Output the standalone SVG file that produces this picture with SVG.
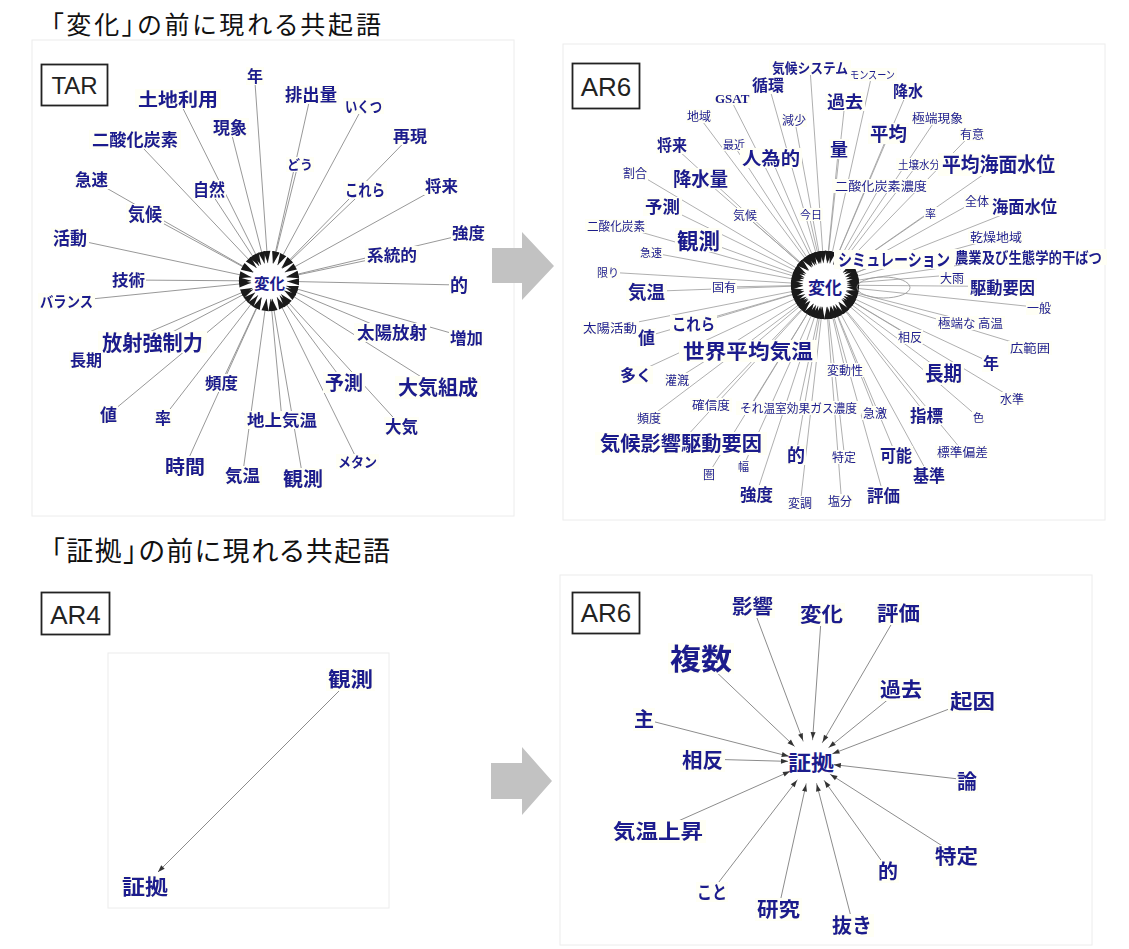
<svg xmlns="http://www.w3.org/2000/svg" width="1129" height="949" viewBox="0 0 1129 949">
<style>
  .title { font-family: "Noto Sans CJK JP", sans-serif; fill: #111; font-feature-settings: "palt"; }
  .tag { font-family: "Liberation Sans", Arial, sans-serif; fill: #222; text-anchor: middle; }
  .tagbox { fill: #fff; stroke: #222; stroke-width: 1.8; }
  .panel { fill: none; stroke: #ececec; stroke-width: 1; }
  .lb { font-family: "Noto Sans CJK JP", sans-serif; font-weight: 700; fill: #1c1c8c; filter: url(#bg); }
  .sm { font-weight: 400; }
  .gs { font-family: "Liberation Serif", "Times New Roman", serif; }
  .hub { font-family: "Noto Sans CJK JP", sans-serif; font-weight: 700; fill: #1c1c8c; }
  .eT { stroke: #8c8c8c; stroke-width: 0.9; marker-end: url(#hT); }
  .eA { stroke: #9a9a9a; stroke-width: 0.8; marker-end: url(#hA); }
  .eE { stroke: #8c8c8c; stroke-width: 1; marker-end: url(#hE); }
  .eF { stroke: #8c8c8c; stroke-width: 1; marker-end: url(#hF); }
  .big { fill: #c2c2c2; }
</style>
<defs>
  <!-- pale label backing that hides the spokes running under a word -->
  <filter id="bg" x="-0.03" y="0.17" width="1.06" height="0.73" color-interpolation-filters="sRGB">
    <feFlood flood-color="#fffff5"/>
    <feMerge><feMergeNode/><feMergeNode in="SourceGraphic"/></feMerge>
  </filter>
  <marker id="hT" markerUnits="userSpaceOnUse" orient="auto" refX="30" refY="0" markerWidth="40" markerHeight="10" overflow="visible">
    <path d="M0,-3.5 L12,0 L0,3.5 z" fill="#1a1a1a"/>
  </marker>
  <marker id="hA" markerUnits="userSpaceOnUse" orient="auto" refX="34" refY="0" markerWidth="40" markerHeight="10" overflow="visible">
    <path d="M0,-3.5 L12,0 L0,3.5 z" fill="#1a1a1a"/>
  </marker>
  <marker id="hE" markerUnits="userSpaceOnUse" orient="auto" refX="30" refY="0" markerWidth="40" markerHeight="10" overflow="visible">
    <path d="M0,-2.5 L7,0 L0,2.5 z" fill="#333"/>
  </marker>
  <marker id="hF" markerUnits="userSpaceOnUse" orient="auto" refX="7" refY="0" markerWidth="10" markerHeight="10" overflow="visible">
    <path d="M0,-2.5 L7,0 L0,2.5 z" fill="#333"/>
  </marker>
</defs>

<rect width="1129" height="949" fill="#fff"/>

<!-- headings -->
<text class="title" x="51" y="34" font-size="25" textLength="330">「変化」の前に現れる共起語</text>
<text class="title" x="51" y="561" font-size="27" textLength="339">「証拠」の前に現れる共起語</text>

<!-- panel frames -->
<rect class="panel" x="32" y="40" width="482" height="476"/>
<rect class="panel" x="563" y="44" width="542" height="476"/>
<rect class="panel" x="108" y="653" width="281" height="255"/>
<rect class="panel" x="560" y="575" width="532" height="370"/>

<!-- report tags -->
<g id="tag-tar"><rect class="tagbox" x="41.5" y="64.5" width="66" height="41"/><text class="tag" x="74.5" y="94" font-size="24">TAR</text></g>
<g id="tag-ar6a"><rect class="tagbox" x="572.5" y="63.5" width="67" height="45"/><text class="tag" x="606" y="96" font-size="26">AR6</text></g>
<g id="tag-ar4"><rect class="tagbox" x="41.5" y="592.5" width="68" height="42"/><text class="tag" x="75.5" y="624" font-size="26">AR4</text></g>
<g id="tag-ar6b"><rect class="tagbox" x="572.5" y="592.5" width="67" height="41"/><text class="tag" x="606" y="622" font-size="26">AR6</text></g>

<!-- transition arrows -->
<polygon class="big" points="492,248 522,248 522,232 554,266 522,300 522,283 492,283"/>
<polygon class="big" points="491,763 522,763 522,747 552,781 522,815 522,799 491,799"/>

<!-- ===== TAR: words before 変化 ===== -->
<g id="tar-edges">
  <line class="eT" x1="254.5" y1="75.5" x2="269" y2="281"/>
  <line class="eT" x1="178" y1="98.5" x2="269" y2="281"/>
  <line class="eT" x1="230" y1="127.5" x2="269" y2="281"/>
  <line class="eT" x1="135" y1="139.5" x2="269" y2="281"/>
  <line class="eT" x1="209" y1="189.5" x2="269" y2="281"/>
  <line class="eT" x1="91.5" y1="179.5" x2="269" y2="281"/>
  <line class="eT" x1="145" y1="213.5" x2="269" y2="281"/>
  <line class="eT" x1="70" y1="238.5" x2="269" y2="281"/>
  <line class="eT" x1="128.5" y1="280" x2="269" y2="281"/>
  <line class="eT" x1="66.5" y1="301.5" x2="269" y2="281"/>
  <line class="eT" x1="152.5" y1="342.5" x2="269" y2="281"/>
  <line class="eT" x1="86" y1="359" x2="269" y2="281"/>
  <line class="eT" x1="221.5" y1="382.5" x2="269" y2="281"/>
  <line class="eT" x1="108.5" y1="414.5" x2="269" y2="281"/>
  <line class="eT" x1="163.5" y1="417.5" x2="269" y2="281"/>
  <line class="eT" x1="185" y1="466.5" x2="269" y2="281"/>
  <line class="eT" x1="242.5" y1="475.5" x2="269" y2="281"/>
  <line class="eT" x1="282" y1="420" x2="269" y2="281"/>
  <line class="eT" x1="303" y1="478.5" x2="269" y2="281"/>
  <line class="eT" x1="357.5" y1="460.5" x2="269" y2="281"/>
  <line class="eT" x1="344" y1="382.5" x2="269" y2="281"/>
  <line class="eT" x1="401.5" y1="426.5" x2="269" y2="281"/>
  <line class="eT" x1="438" y1="387.5" x2="269" y2="281"/>
  <line class="eT" x1="392" y1="332.5" x2="269" y2="281"/>
  <line class="eT" x1="466.5" y1="337.5" x2="269" y2="281"/>
  <line class="eT" x1="459" y1="285" x2="269" y2="281"/>
  <line class="eT" x1="311" y1="93.5" x2="269" y2="281"/>
  <line class="eT" x1="363.5" y1="105.5" x2="269" y2="281"/>
  <line class="eT" x1="298.5" y1="162.5" x2="269" y2="281"/>
  <line class="eT" x1="410" y1="136.5" x2="269" y2="281"/>
  <line class="eT" x1="365" y1="189.5" x2="269" y2="281"/>
  <line class="eT" x1="441.5" y1="185.5" x2="269" y2="281"/>
  <line class="eT" x1="468.5" y1="233.5" x2="269" y2="281"/>
  <line class="eT" x1="392" y1="255" x2="269" y2="281"/>
</g>
<g id="tar-hub"><circle cx="269" cy="281" r="18" fill="#fff"/><text class="hub" x="254" y="289" font-size="15" textLength="31" lengthAdjust="spacingAndGlyphs">変化</text></g>
<g id="tar-n01"><text class="lb" x="247" y="82" font-size="16">年</text></g>
<g id="tar-n02"><text class="lb" x="138" y="106" font-size="18" textLength="80" lengthAdjust="spacingAndGlyphs">土地利用</text></g>
<g id="tar-n03"><text class="lb" x="213" y="134" font-size="17" textLength="34" lengthAdjust="spacingAndGlyphs">現象</text></g>
<g id="tar-n04"><text class="lb" x="92" y="146" font-size="17" textLength="86" lengthAdjust="spacingAndGlyphs">二酸化炭素</text></g>
<g id="tar-n05"><text class="lb" x="193" y="196" font-size="17" textLength="32" lengthAdjust="spacingAndGlyphs">自然</text></g>
<g id="tar-n06"><text class="lb" x="75" y="186" font-size="17" textLength="33" lengthAdjust="spacingAndGlyphs">急速</text></g>
<g id="tar-n07"><text class="lb" x="128" y="221" font-size="18" textLength="34" lengthAdjust="spacingAndGlyphs">気候</text></g>
<g id="tar-n08"><text class="lb" x="53" y="245" font-size="18" textLength="34" lengthAdjust="spacingAndGlyphs">活動</text></g>
<g id="tar-n09"><text class="lb" x="112" y="286" font-size="16" textLength="33" lengthAdjust="spacingAndGlyphs">技術</text></g>
<g id="tar-n10"><text class="lb" x="40" y="307" font-size="15" textLength="53" lengthAdjust="spacingAndGlyphs">バランス</text></g>
<g id="tar-n11"><text class="lb" x="102" y="350" font-size="21" textLength="101" lengthAdjust="spacingAndGlyphs">放射強制力</text></g>
<g id="tar-n12"><text class="lb" x="70" y="366" font-size="16" textLength="32" lengthAdjust="spacingAndGlyphs">長期</text></g>
<g id="tar-n13"><text class="lb" x="205" y="389" font-size="16" textLength="33" lengthAdjust="spacingAndGlyphs">頻度</text></g>
<g id="tar-n14"><text class="lb" x="100" y="421" font-size="17">値</text></g>
<g id="tar-n15"><text class="lb" x="155" y="424" font-size="16">率</text></g>
<g id="tar-n16"><text class="lb" x="165" y="474" font-size="19" textLength="40" lengthAdjust="spacingAndGlyphs">時間</text></g>
<g id="tar-n17"><text class="lb" x="225" y="482" font-size="17" textLength="35" lengthAdjust="spacingAndGlyphs">気温</text></g>
<g id="tar-n18"><text class="lb" x="247" y="426" font-size="16" textLength="70" lengthAdjust="spacingAndGlyphs">地上気温</text></g>
<g id="tar-n19"><text class="lb" x="283" y="486" font-size="19" textLength="40" lengthAdjust="spacingAndGlyphs">観測</text></g>
<g id="tar-n20"><text class="lb" x="338" y="467" font-size="14" textLength="39" lengthAdjust="spacingAndGlyphs">メタン</text></g>
<g id="tar-n21"><text class="lb" x="325" y="390" font-size="19" textLength="38" lengthAdjust="spacingAndGlyphs">予測</text></g>
<g id="tar-n22"><text class="lb" x="385" y="433" font-size="17" textLength="33" lengthAdjust="spacingAndGlyphs">大気</text></g>
<g id="tar-n23"><text class="lb" x="398" y="395" font-size="20" textLength="80" lengthAdjust="spacingAndGlyphs">大気組成</text></g>
<g id="tar-n24"><text class="lb" x="357" y="339" font-size="17" textLength="70" lengthAdjust="spacingAndGlyphs">太陽放射</text></g>
<g id="tar-n25"><text class="lb" x="450" y="344" font-size="16" textLength="33" lengthAdjust="spacingAndGlyphs">増加</text></g>
<g id="tar-n26"><text class="lb" x="450" y="292" font-size="18">的</text></g>
<g id="tar-n27"><text class="lb" x="285" y="101" font-size="17" textLength="52" lengthAdjust="spacingAndGlyphs">排出量</text></g>
<g id="tar-n28"><text class="lb" x="345" y="112" font-size="15" textLength="37" lengthAdjust="spacingAndGlyphs">いくつ</text></g>
<g id="tar-n29"><text class="lb" x="287" y="169" font-size="13">どう</text></g>
<g id="tar-n30"><text class="lb" x="393" y="142" font-size="16" textLength="34" lengthAdjust="spacingAndGlyphs">再現</text></g>
<g id="tar-n31"><text class="lb" x="345" y="196" font-size="16" textLength="40" lengthAdjust="spacingAndGlyphs">これら</text></g>
<g id="tar-n32"><text class="lb" x="425" y="192" font-size="16" textLength="33" lengthAdjust="spacingAndGlyphs">将来</text></g>
<g id="tar-n33"><text class="lb" x="452" y="239" font-size="16" textLength="33" lengthAdjust="spacingAndGlyphs">強度</text></g>
<g id="tar-n34"><text class="lb" x="367" y="261" font-size="16" textLength="50" lengthAdjust="spacingAndGlyphs">系統的</text></g>

<!-- ===== AR6: words before 変化 ===== -->
<g id="ar6a-edges">
  <line class="eA" x1="768" y1="82.5" x2="825" y2="285"/>
  <line class="eA" x1="810" y1="68.5" x2="825" y2="285"/>
  <line class="eA" x1="872" y1="74" x2="825" y2="285"/>
  <line class="eA" x1="730" y1="98" x2="825" y2="285"/>
  <line class="eA" x1="698.5" y1="116" x2="825" y2="285"/>
  <line class="eA" x1="794.5" y1="119" x2="825" y2="285"/>
  <line class="eA" x1="845" y1="101.5" x2="825" y2="285"/>
  <line class="eA" x1="908" y1="90" x2="825" y2="285"/>
  <line class="eA" x1="937.5" y1="117" x2="825" y2="285"/>
  <line class="eA" x1="888.5" y1="133.5" x2="825" y2="285"/>
  <line class="eA" x1="972.5" y1="133" x2="825" y2="285"/>
  <line class="eA" x1="919" y1="162.5" x2="825" y2="285"/>
  <line class="eA" x1="998.5" y1="164" x2="825" y2="285"/>
  <line class="eA" x1="881" y1="185" x2="825" y2="285"/>
  <line class="eA" x1="977.5" y1="200" x2="825" y2="285"/>
  <line class="eA" x1="1024.5" y1="206" x2="825" y2="285"/>
  <line class="eA" x1="930" y1="212.5" x2="825" y2="285"/>
  <line class="eA" x1="996" y1="238" x2="825" y2="285"/>
  <line class="eA" x1="894" y1="257.5" x2="825" y2="285"/>
  <line class="eA" x1="1028" y1="255" x2="825" y2="285"/>
  <line class="eA" x1="952" y1="275" x2="825" y2="285"/>
  <line class="eA" x1="1002.5" y1="286.5" x2="825" y2="285"/>
  <line class="eA" x1="1039.5" y1="307.5" x2="825" y2="285"/>
  <line class="eA" x1="970.5" y1="322" x2="825" y2="285"/>
  <line class="eA" x1="910.5" y1="336" x2="825" y2="285"/>
  <line class="eA" x1="1030" y1="347.5" x2="825" y2="285"/>
  <line class="eA" x1="990.5" y1="362.5" x2="825" y2="285"/>
  <line class="eA" x1="943.5" y1="372.5" x2="825" y2="285"/>
  <line class="eA" x1="845" y1="369" x2="825" y2="285"/>
  <line class="eA" x1="1012.5" y1="398" x2="825" y2="285"/>
  <line class="eA" x1="875.5" y1="412.5" x2="825" y2="285"/>
  <line class="eA" x1="926.5" y1="415" x2="825" y2="285"/>
  <line class="eA" x1="978" y1="417" x2="825" y2="285"/>
  <line class="eA" x1="962.5" y1="451" x2="825" y2="285"/>
  <line class="eA" x1="844.5" y1="456" x2="825" y2="285"/>
  <line class="eA" x1="896" y1="455" x2="825" y2="285"/>
  <line class="eA" x1="929" y1="475.5" x2="825" y2="285"/>
  <line class="eA" x1="841.5" y1="500" x2="825" y2="285"/>
  <line class="eA" x1="883.5" y1="495" x2="825" y2="285"/>
  <line class="eA" x1="798.5" y1="407.5" x2="825" y2="285"/>
  <line class="eA" x1="750" y1="407.5" x2="825" y2="285"/>
  <line class="eA" x1="800.5" y1="502" x2="825" y2="285"/>
  <line class="eA" x1="756.5" y1="493.5" x2="825" y2="285"/>
  <line class="eA" x1="796" y1="455" x2="825" y2="285"/>
  <line class="eA" x1="709" y1="473" x2="825" y2="285"/>
  <line class="eA" x1="743.5" y1="466" x2="825" y2="285"/>
  <line class="eA" x1="681" y1="442.5" x2="825" y2="285"/>
  <line class="eA" x1="649.5" y1="417.5" x2="825" y2="285"/>
  <line class="eA" x1="711" y1="404" x2="825" y2="285"/>
  <line class="eA" x1="677.5" y1="378.5" x2="825" y2="285"/>
  <line class="eA" x1="632.5" y1="374.5" x2="825" y2="285"/>
  <line class="eA" x1="748" y1="350" x2="825" y2="285"/>
  <line class="eA" x1="693.5" y1="324.5" x2="825" y2="285"/>
  <line class="eA" x1="646.5" y1="336.5" x2="825" y2="285"/>
  <line class="eA" x1="610" y1="327.5" x2="825" y2="285"/>
  <line class="eA" x1="646.5" y1="291.5" x2="825" y2="285"/>
  <line class="eA" x1="724.5" y1="287" x2="825" y2="285"/>
  <line class="eA" x1="605" y1="272" x2="825" y2="285"/>
  <line class="eA" x1="648.5" y1="252" x2="825" y2="285"/>
  <line class="eA" x1="698.5" y1="239" x2="825" y2="285"/>
  <line class="eA" x1="616" y1="225" x2="825" y2="285"/>
  <line class="eA" x1="662.5" y1="205.5" x2="825" y2="285"/>
  <line class="eA" x1="744" y1="214" x2="825" y2="285"/>
  <line class="eA" x1="808.5" y1="213" x2="825" y2="285"/>
  <line class="eA" x1="700.5" y1="176" x2="825" y2="285"/>
  <line class="eA" x1="635" y1="172" x2="825" y2="285"/>
  <line class="eA" x1="672" y1="144.5" x2="825" y2="285"/>
  <line class="eA" x1="733" y1="144" x2="825" y2="285"/>
  <line class="eA" x1="771" y1="157.5" x2="825" y2="285"/>
  <line class="eA" x1="838.5" y1="148.5" x2="825" y2="285"/>
  <ellipse cx="883.5" cy="287.5" rx="26.5" ry="10.5" fill="none" stroke="#9a9a9a" stroke-width="0.9"/>
</g>
<g id="ar6a-hub"><circle cx="825" cy="285" r="22" fill="#fff"/><text class="hub" x="808" y="293.5" font-size="17" textLength="34" lengthAdjust="spacingAndGlyphs">変化</text></g>
<g id="ar6a-n01"><text class="lb" x="752" y="91" font-size="16" textLength="32" lengthAdjust="spacingAndGlyphs">循環</text></g>
<g id="ar6a-n02"><text class="lb sm" x="850" y="79" font-size="11" textLength="45" lengthAdjust="spacingAndGlyphs">モンスーン</text></g>
<g id="ar6a-n03"><text class="lb" x="772" y="73" font-size="14" textLength="76" lengthAdjust="spacingAndGlyphs">気候システム</text></g>
<g id="ar6a-n04"><text class="lb gs" x="715" y="103" font-size="13">GSAT</text></g>
<g id="ar6a-n05"><text class="lb sm" x="687" y="121" font-size="12">地域</text></g>
<g id="ar6a-n06"><text class="lb sm" x="782" y="125" font-size="12">減少</text></g>
<g id="ar6a-n07"><text class="lb" x="827" y="108" font-size="17" textLength="36" lengthAdjust="spacingAndGlyphs">過去</text></g>
<g id="ar6a-n08"><text class="lb" x="893" y="97" font-size="16" textLength="30" lengthAdjust="spacingAndGlyphs">降水</text></g>
<g id="ar6a-n09"><text class="lb sm" x="912" y="123" font-size="12" textLength="51" lengthAdjust="spacingAndGlyphs">極端現象</text></g>
<g id="ar6a-n10"><text class="lb" x="870" y="141" font-size="19" textLength="37" lengthAdjust="spacingAndGlyphs">平均</text></g>
<g id="ar6a-n11"><text class="lb sm" x="960" y="139" font-size="12">有意</text></g>
<g id="ar6a-n12"><text class="lb sm" x="898" y="169" font-size="11" textLength="42" lengthAdjust="spacingAndGlyphs">土壌水分</text></g>
<g id="ar6a-n13"><text class="lb" x="942" y="172" font-size="20" textLength="113" lengthAdjust="spacingAndGlyphs">平均海面水位</text></g>
<g id="ar6a-n14"><text class="lb sm" x="835" y="191" font-size="12" textLength="92" lengthAdjust="spacingAndGlyphs">二酸化炭素濃度</text></g>
<g id="ar6a-n15"><text class="lb sm" x="965" y="206" font-size="12">全体</text></g>
<g id="ar6a-n16"><text class="lb" x="992" y="213" font-size="17" textLength="65" lengthAdjust="spacingAndGlyphs">海面水位</text></g>
<g id="ar6a-n17"><text class="lb sm" x="925" y="218" font-size="11">率</text></g>
<g id="ar6a-n18"><text class="lb sm" x="970" y="242" font-size="12" textLength="52" lengthAdjust="spacingAndGlyphs">乾燥地域</text></g>
<g id="ar6a-n19"><text class="lb" x="838" y="266" font-size="17" textLength="112" lengthAdjust="spacingAndGlyphs">シミュレーション</text></g>
<g id="ar6a-n20"><text class="lb" x="955" y="263" font-size="15" textLength="147" lengthAdjust="spacingAndGlyphs">農業及び生態学的干ばつ</text></g>
<g id="ar6a-n21"><text class="lb sm" x="940" y="283" font-size="12">大雨</text></g>
<g id="ar6a-n22"><text class="lb" x="970" y="294" font-size="17" textLength="65" lengthAdjust="spacingAndGlyphs">駆動要因</text></g>
<g id="ar6a-n23"><text class="lb sm" x="1027" y="313" font-size="12">一般</text></g>
<g id="ar6a-n24"><text class="lb sm" x="938" y="328" font-size="12" textLength="65" lengthAdjust="spacingAndGlyphs">極端な 高温</text></g>
<g id="ar6a-n25"><text class="lb sm" x="898" y="342" font-size="12">相反</text></g>
<g id="ar6a-n26"><text class="lb sm" x="1010" y="353" font-size="12" textLength="40" lengthAdjust="spacingAndGlyphs">広範囲</text></g>
<g id="ar6a-n27"><text class="lb" x="983" y="369" font-size="16">年</text></g>
<g id="ar6a-n28"><text class="lb" x="925" y="381" font-size="20" textLength="37" lengthAdjust="spacingAndGlyphs">長期</text></g>
<g id="ar6a-n29"><text class="lb sm" x="827" y="375" font-size="12" textLength="36" lengthAdjust="spacingAndGlyphs">変動性</text></g>
<g id="ar6a-n30"><text class="lb sm" x="1000" y="404" font-size="12">水準</text></g>
<g id="ar6a-n31"><text class="lb sm" x="863" y="418" font-size="12">急激</text></g>
<g id="ar6a-n32"><text class="lb" x="910" y="422" font-size="17" textLength="33" lengthAdjust="spacingAndGlyphs">指標</text></g>
<g id="ar6a-n33"><text class="lb sm" x="973" y="422" font-size="11">色</text></g>
<g id="ar6a-n34"><text class="lb sm" x="937" y="457" font-size="12" textLength="51" lengthAdjust="spacingAndGlyphs">標準偏差</text></g>
<g id="ar6a-n35"><text class="lb sm" x="832" y="462" font-size="12">特定</text></g>
<g id="ar6a-n36"><text class="lb" x="880" y="462" font-size="17" textLength="32" lengthAdjust="spacingAndGlyphs">可能</text></g>
<g id="ar6a-n37"><text class="lb" x="913" y="482" font-size="17" textLength="32" lengthAdjust="spacingAndGlyphs">基準</text></g>
<g id="ar6a-n38"><text class="lb sm" x="828" y="506" font-size="12">塩分</text></g>
<g id="ar6a-n39"><text class="lb" x="867" y="502" font-size="17" textLength="33" lengthAdjust="spacingAndGlyphs">評価</text></g>
<g id="ar6a-n40"><text class="lb sm" x="740" y="413" font-size="12" textLength="117" lengthAdjust="spacingAndGlyphs">それ温室効果ガス濃度</text></g>
<g id="ar6a-n42"><text class="lb sm" x="788" y="508" font-size="12">変調</text></g>
<g id="ar6a-n43"><text class="lb" x="740" y="501" font-size="17" textLength="33" lengthAdjust="spacingAndGlyphs">強度</text></g>
<g id="ar6a-n44"><text class="lb" x="787" y="462" font-size="18">的</text></g>
<g id="ar6a-n45"><text class="lb sm" x="703" y="479" font-size="12">圏</text></g>
<g id="ar6a-n46"><text class="lb sm" x="738" y="471" font-size="11">幅</text></g>
<g id="ar6a-n47"><text class="lb" x="600" y="451" font-size="20" textLength="162" lengthAdjust="spacingAndGlyphs">気候影響駆動要因</text></g>
<g id="ar6a-n48"><text class="lb sm" x="637" y="423" font-size="12">頻度</text></g>
<g id="ar6a-n49"><text class="lb sm" x="692" y="410" font-size="12" textLength="38" lengthAdjust="spacingAndGlyphs">確信度</text></g>
<g id="ar6a-n50"><text class="lb sm" x="665" y="385" font-size="12">灌漑</text></g>
<g id="ar6a-n51"><text class="lb" x="620" y="381" font-size="16">多く</text></g>
<g id="ar6a-n52"><text class="lb" x="683" y="359" font-size="20.5" textLength="130" lengthAdjust="spacingAndGlyphs">世界平均気温</text></g>
<g id="ar6a-n53"><text class="lb" x="672" y="330" font-size="16" textLength="43" lengthAdjust="spacingAndGlyphs">これら</text></g>
<g id="ar6a-n54"><text class="lb" x="638" y="344" font-size="17">値</text></g>
<g id="ar6a-n55"><text class="lb sm" x="583" y="333" font-size="12" textLength="54" lengthAdjust="spacingAndGlyphs">太陽活動</text></g>
<g id="ar6a-n56"><text class="lb" x="628" y="299" font-size="18" textLength="37" lengthAdjust="spacingAndGlyphs">気温</text></g>
<g id="ar6a-n57"><text class="lb sm" x="712" y="292" font-size="12">固有</text></g>
<g id="ar6a-n58"><text class="lb sm" x="597" y="277" font-size="11">限り</text></g>
<g id="ar6a-n59"><text class="lb sm" x="640" y="257" font-size="11">急速</text></g>
<g id="ar6a-n60"><text class="lb" x="677" y="249" font-size="22" textLength="43" lengthAdjust="spacingAndGlyphs">観測</text></g>
<g id="ar6a-n61"><text class="lb sm" x="587" y="231" font-size="12" textLength="58" lengthAdjust="spacingAndGlyphs">二酸化炭素</text></g>
<g id="ar6a-n62"><text class="lb" x="645" y="213" font-size="17" textLength="35" lengthAdjust="spacingAndGlyphs">予測</text></g>
<g id="ar6a-n63"><text class="lb sm" x="733" y="220" font-size="12">気候</text></g>
<g id="ar6a-n64"><text class="lb sm" x="800" y="219" font-size="11">今日</text></g>
<g id="ar6a-n65"><text class="lb" x="673" y="186" font-size="19" textLength="55" lengthAdjust="spacingAndGlyphs">降水量</text></g>
<g id="ar6a-n66"><text class="lb sm" x="623" y="178" font-size="12">割合</text></g>
<g id="ar6a-n67"><text class="lb" x="657" y="151" font-size="16" textLength="30" lengthAdjust="spacingAndGlyphs">将来</text></g>
<g id="ar6a-n68"><text class="lb sm" x="723" y="149" font-size="11">最近</text></g>
<g id="ar6a-n69"><text class="lb" x="742" y="165" font-size="18" textLength="58" lengthAdjust="spacingAndGlyphs">人為的</text></g>
<g id="ar6a-n70"><text class="lb" x="830" y="156" font-size="18">量</text></g>

<!-- ===== AR4: words before 証拠 ===== -->
<g id="ar4-edges">
  <line class="eF" x1="340" y1="690" x2="158" y2="872"/>
</g>
<g id="ar4-n01"><text class="lb" x="328" y="687" font-size="20" textLength="45" lengthAdjust="spacingAndGlyphs">観測</text></g>
<g id="ar4-hub"><text class="lb" x="122" y="894" font-size="21" textLength="46" lengthAdjust="spacingAndGlyphs">証拠</text></g>

<!-- ===== AR6: words before 証拠 ===== -->
<g id="ar6b-edges">
  <line class="eE" x1="752.5" y1="606" x2="811" y2="762"/>
  <line class="eE" x1="821.5" y1="613" x2="811" y2="762"/>
  <line class="eE" x1="898.5" y1="612" x2="811" y2="762"/>
  <line class="eE" x1="701" y1="657.5" x2="811" y2="762"/>
  <line class="eE" x1="901" y1="689" x2="811" y2="762"/>
  <line class="eE" x1="972.5" y1="700" x2="811" y2="762"/>
  <line class="eE" x1="643.5" y1="719" x2="811" y2="762"/>
  <line class="eE" x1="702.5" y1="759" x2="811" y2="762"/>
  <line class="eE" x1="967.5" y1="780" x2="811" y2="762"/>
  <line class="eE" x1="658" y1="830" x2="811" y2="762"/>
  <line class="eE" x1="956.5" y1="855" x2="811" y2="762"/>
  <line class="eE" x1="888" y1="870" x2="811" y2="762"/>
  <line class="eE" x1="712" y1="891" x2="811" y2="762"/>
  <line class="eE" x1="778.5" y1="909" x2="811" y2="762"/>
  <line class="eE" x1="852.5" y1="922.5" x2="811" y2="762"/>
</g>
<g id="ar6b-hub"><ellipse cx="811" cy="762" rx="23" ry="22" fill="#fff"/><text class="hub" x="788" y="770" font-size="21" textLength="46" lengthAdjust="spacingAndGlyphs">証拠</text></g>
<g id="ar6b-n01"><text class="lb" x="732" y="614" font-size="20" textLength="41" lengthAdjust="spacingAndGlyphs">影響</text></g>
<g id="ar6b-n02"><text class="lb" x="800" y="622" font-size="20" textLength="43" lengthAdjust="spacingAndGlyphs">変化</text></g>
<g id="ar6b-n03"><text class="lb" x="877" y="621" font-size="20" textLength="43" lengthAdjust="spacingAndGlyphs">評価</text></g>
<g id="ar6b-n04"><text class="lb" x="670" y="670" font-size="29" textLength="62" lengthAdjust="spacingAndGlyphs">複数</text></g>
<g id="ar6b-n05"><text class="lb" x="880" y="697" font-size="20" textLength="42" lengthAdjust="spacingAndGlyphs">過去</text></g>
<g id="ar6b-n06"><text class="lb" x="950" y="709" font-size="20" textLength="45" lengthAdjust="spacingAndGlyphs">起因</text></g>
<g id="ar6b-n07"><text class="lb" x="634" y="727" font-size="20">主</text></g>
<g id="ar6b-n08"><text class="lb" x="682" y="768" font-size="20" textLength="41" lengthAdjust="spacingAndGlyphs">相反</text></g>
<g id="ar6b-n09"><text class="lb" x="957" y="789" font-size="20">論</text></g>
<g id="ar6b-n10"><text class="lb" x="613" y="839" font-size="20" textLength="90" lengthAdjust="spacingAndGlyphs">気温上昇</text></g>
<g id="ar6b-n11"><text class="lb" x="935" y="864" font-size="20" textLength="43" lengthAdjust="spacingAndGlyphs">特定</text></g>
<g id="ar6b-n12"><text class="lb" x="878" y="879" font-size="20">的</text></g>
<g id="ar6b-n13"><text class="lb" x="697" y="899" font-size="18" textLength="30" lengthAdjust="spacingAndGlyphs">こと</text></g>
<g id="ar6b-n14"><text class="lb" x="757" y="917" font-size="20" textLength="43" lengthAdjust="spacingAndGlyphs">研究</text></g>
<g id="ar6b-n15"><text class="lb" x="832" y="933" font-size="20" textLength="40" lengthAdjust="spacingAndGlyphs">抜き</text></g>
</svg>
